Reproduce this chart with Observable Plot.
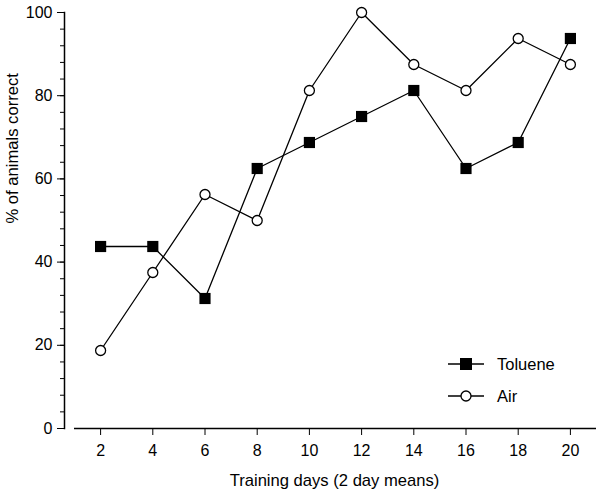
<!DOCTYPE html>
<html>
<head>
<meta charset="utf-8">
<script src="https://cdn.jsdelivr.net/npm/d3@7"></script>
<script src="https://cdn.jsdelivr.net/npm/@observablehq/plot@0.6"></script>
<style>
  html, body { margin: 0; padding: 0; background: #fff; }
  #wrap { position: relative; width: 600px; height: 491px; font-family: "Liberation Sans", Arial, sans-serif; }
  #wrap svg text { fill: #000; }
  #wrap svg g[aria-label="y-axis tick label"] text,
  #wrap svg g[aria-label="x-axis tick label"] text { font-size: 16px !important; }
  #wrap svg g.titles text { font-size: 16.6px !important; }
  #legend { position: absolute; left: 448px; top: 348px; font-size: 16.5px; color: #000; }
  #legend .row { display: flex; align-items: center; height: 32px; }
  #legend svg { margin-right: 13px; }
</style>
</head>
<body>
<div id="wrap"></div>
<script>
const days = [2, 4, 6, 8, 10, 12, 14, 16, 18, 20];
const toluene = [43.75, 43.75, 31.25, 62.5, 68.75, 75, 81.25, 62.5, 68.75, 93.75];
const air = [18.75, 37.5, 56.25, 50, 81.25, 100, 87.5, 81.25, 93.75, 87.5];
const seriesNames = ["Toluene", "Air"];
const xTicks = [2, 4, 6, 8, 10, 12, 14, 16, 18, 20];
const yTicks = [0, 20, 40, 60, 80, 100];
const yMinorTicks = d3.range(0, 101, 4);
const xDomain = [1, 21];
const yDomain = [0, 100];
const xTitle = "Training days (2 day means)";
const yTitle = "% of animals correct";

const tolData = days.map((d, i) => ({day: d, value: toluene[i]}));
const airData = days.map((d, i) => ({day: d, value: air[i]}));

const chart = Plot.plot({
  width: 600,
  height: 491,
  marginLeft: 64,
  marginRight: 4,
  marginTop: 12,
  marginBottom: 63,
  style: {fontFamily: "'Liberation Sans', Arial, sans-serif", color: "#000", background: "#fff"},
  x: {domain: xDomain, range: [74, 596]},
  y: {domain: yDomain},
  marks: [
    Plot.axisY(yMinorTicks, {tickSize: 4, text: null, label: null, strokeWidth: 1}),
    Plot.axisY(yTicks, {tickSize: 7, tickPadding: 5, label: null}),
    Plot.frame({anchor: "left", stroke: "#000", strokeWidth: 1.5}),
    Plot.axisX(xTicks, {tickSize: 7, tickPadding: 9, label: null}),
    Plot.ruleY([0], {x1: xDomain[0], x2: xDomain[1], stroke: "#000", strokeWidth: 1.5}),
    Plot.text([yTitle], {text: d => d, frameAnchor: "left", rotate: -90, dx: -52, dy: 3, className: "titles"}),
    Plot.text([xTitle], {text: d => d, frameAnchor: "bottom", dx: 4, dy: 57, className: "titles"}),
    Plot.line(tolData, {x: "day", y: "value", stroke: "#000", strokeWidth: 1.3}),
    Plot.line(airData, {x: "day", y: "value", stroke: "#000", strokeWidth: 1.3}),
    Plot.dot(tolData, {x: "day", y: "value", symbol: "square", r: 6.3, fill: "#000", stroke: "none"}),
    Plot.dot(airData, {x: "day", y: "value", symbol: "circle", r: 5, fill: "#fff", stroke: "#000", strokeWidth: 1.3})
  ]
});

const wrap = document.getElementById("wrap");
wrap.appendChild(chart);

const legend = document.createElement("div");
legend.id = "legend";
const sym = [
  '<rect x="12" y="5" width="12" height="12" fill="#000"/>',
  '<circle cx="18" cy="11" r="5" fill="#fff" stroke="#000" stroke-width="1.3"/>'
];
legend.innerHTML = seriesNames.map((n, i) =>
  `<div class="row"><svg width="36" height="22"><line x1="0" x2="36" y1="11" y2="11" stroke="#000" stroke-width="1.3"/>${sym[i]}</svg><span>${n}</span></div>`
).join("");
wrap.appendChild(legend);
</script>
</body>
</html>
